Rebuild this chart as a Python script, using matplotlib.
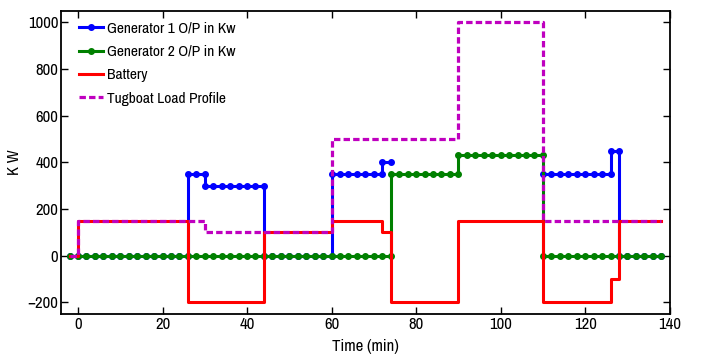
import matplotlib
matplotlib.use("Agg")
import matplotlib.pyplot as plt
from matplotlib import font_manager as fm
import numpy as np

# narrow Helvetica-like face if present, plain sans otherwise
installed = set(f.name for f in fm.fontManager.ttflist)
font = next((f for f in ["Liberation Sans Narrow", "Archivo Narrow", "Roboto Condensed",
                         "Liberation Sans"] if f in installed), "DejaVu Sans")
narrow = font != "Liberation Sans" and font != "DejaVu Sans"
plt.rcParams['font.family'] = [font, 'DejaVu Sans']
tick_fs = 12 if narrow else 10.5
leg_fs = 11.2 if narrow else 10

# Step breakpoints (min) and levels (kW) between them; nan = not logged
gen1_t = [-2, 26, 30, 44, 60, 72, 74, 110, 126, 128, 138]
gen1_kw = [0, 350, 300, 0, 350, 400, np.nan, 350, 450, 0]

gen2_t = [-2, 74, 90, 110, 138]
gen2_kw = [0, 350, 430, 0]

batt_t = [-2, 0, 26, 44, 60, 72, 74, 90, 110, 126, 128, 138]
batt_kw = [0, 150, -200, 100, 150, 100, -200, 150, -200, -100, 150]

load_t = [-2, 0, 30, 60, 90, 110, 138]
load_kw = [0, 150, 100, 500, 1000, 150]

sample_step = 2  # minutes between logged points


def stairs(t, v, step=None):
    xs, ys = [], []
    for i, lvl in enumerate(v):
        if step is None:
            pts = [t[i], t[i + 1]]
        else:
            pts = list(np.arange(t[i], t[i + 1] + 0.001, step))
        xs += pts
        ys += [lvl] * len(pts)
    return xs, ys


fig = plt.figure(figsize=(7.02, 3.61), dpi=100)
ax = fig.add_axes([0.087, 0.130, 0.867, 0.840])

x, y = stairs(gen1_t, gen1_kw, sample_step)
ax.plot(x, y, color="#0000ff", lw=2.2, marker="o", ms=4.0, label="Generator 1 O/P in Kw")
x, y = stairs(gen2_t, gen2_kw, sample_step)
ax.plot(x, y, color="#008000", lw=2.2, marker="o", ms=4.0, label="Generator 2 O/P in Kw")
x, y = stairs(batt_t, batt_kw)
ax.plot(x, y, color="#ff0000", lw=2.2, label="Battery")
x, y = stairs(load_t, load_kw)
ax.plot(x, y, color="#bf00bf", lw=2.3, dashes=(2.0, 1.0), label="Tugboat Load Profile")

ax.set_xlim(-4, 140)
ax.set_ylim(-250, 1050)
ax.set_xticks(np.arange(0, 141, 20))
ax.set_yticks(np.arange(-200, 1001, 200))
ax.tick_params(direction="in", top=True, right=True, labelsize=tick_fs, length=5, width=1,
               pad=2)
for s in ax.spines.values():
    s.set_linewidth(1.3)

ax.set_xlabel("Time (min)", fontsize=tick_fs, labelpad=5)
ax.set_ylabel("K W", fontsize=tick_fs, labelpad=4)

ax.legend(loc="upper left", bbox_to_anchor=(0.007, 1.008), frameon=False, fontsize=leg_fs,
          numpoints=1, handlelength=1.6, handletextpad=0.25, labelspacing=0.6,
          borderaxespad=0.45)

fig.savefig("out.png", dpi=100)
